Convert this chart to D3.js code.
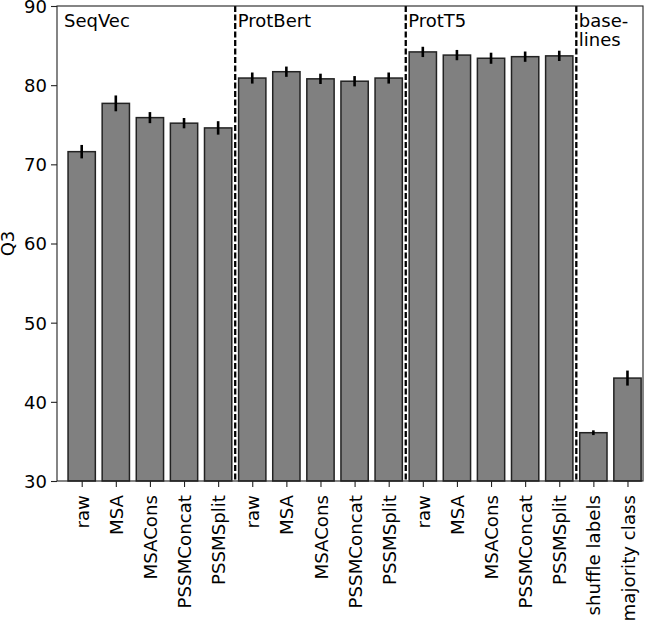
<!DOCTYPE html>
<html>
<head>
<meta charset="utf-8">
<title>Q3 per embedding</title>
<style>
	body { margin: 0; padding: 0; background: #fff; }
	svg { display: block; font-family: "DejaVu Sans", sans-serif; }
	.tick text { font-family: "DejaVu Sans", sans-serif; font-size: 18px; fill: #000; }
	.xlab .tick text { font-size: 18.2px; }
</style>
</head>
<body>
<svg width="645" height="621"></svg>
<script src="https://cdn.jsdelivr.net/npm/d3@7"></script>
<script>

	// categorie per ogni gruppo
	var groups = ["SeqVec", "ProtBert", "ProtT5", "base-\nlines"];
	var methods = ["raw", "MSA", "MSACons", "PSSMConcat", "PSSMSplit"];
	var baselineNames = ["shuffle labels", "majority class"];

	// valori Q3
	var seqvecQ3   = [71.6, 77.7, 75.9, 75.2, 74.6];
	var protbertQ3 = [80.9, 81.7, 80.8, 80.5, 80.9];
	var prott5Q3   = [84.2, 83.8, 83.4, 83.6, 83.7];
	var baselineQ3 = [36.1, 43.0];

	// errori (semi ampiezza)
	var seqvecErr   = [0.85, 1.0, 0.7, 0.65, 0.85];
	var protbertErr = [0.7, 0.65, 0.65, 0.65, 0.7];
	var prott5Err   = [0.65, 0.65, 0.7, 0.65, 0.65];
	var baselineErr = [0.3, 0.95];

	var yTicks = [30, 40, 50, 60, 70, 80, 90];

	var labels = methods.concat(methods, methods, baselineNames);
	var values = seqvecQ3.concat(protbertQ3, prott5Q3, baselineQ3);
	var errors = seqvecErr.concat(protbertErr, prott5Err, baselineErr);
	var groupSizes = [5, 5, 5, 2];

	var data = labels.map(function(d, i) {
		return { label: d, value: values[i], err: errors[i], i: i };
	});

	// margini del riquadro (window.top e' riservato, quindi nomi diversi)
	var boxL = 57, boxR = 643, boxT = 6, boxB = 481;

	var svg = d3.select("svg");

	var x = d3.scaleLinear().domain([-0.724, 16.455]).range([boxL, boxR]);
	var y = d3.scaleLinear().domain([30, 90]).range([boxB, boxT]);
	var barW = x(0.8) - x(0);

	// barre
	svg.append("g")
		.selectAll("rect")
		.data(data)
		.enter()
		.append("rect")
		.attr("x", function(d) { return x(d.i) - barW / 2; })
		.attr("y", function(d) { return y(d.value); })
		.attr("width", barW)
		.attr("height", function(d) { return y(30) - y(d.value); })
		.style("fill", "#808080")
		.style("stroke", "#222")
		.style("stroke-width", 1.5);

	// barre di errore
	svg.append("g")
		.selectAll("line")
		.data(data)
		.enter()
		.append("line")
		.attr("x1", function(d) { return x(d.i); })
		.attr("x2", function(d) { return x(d.i); })
		.attr("y1", function(d) { return y(d.value - d.err); })
		.attr("y2", function(d) { return y(d.value + d.err); })
		.style("stroke", "#000")
		.style("stroke-width", 2.6);

	// linee tratteggiate tra i gruppi
	var boundaries = [];
	var acc = 0;
	groupSizes.slice(0, -1).forEach(function(n) {
		acc += n;
		boundaries.push(acc - 0.5);
	});

	svg.append("g")
		.selectAll("line")
		.data(boundaries)
		.enter()
		.append("line")
		.attr("x1", function(d) { return x(d); })
		.attr("x2", function(d) { return x(d); })
		.attr("y1", boxT)
		.attr("y2", boxB)
		.style("stroke", "#000")
		.style("stroke-width", 2.3)
		.style("stroke-dasharray", "6,2.5");

	// etichette dei gruppi
	var groupStarts = [x.domain()[0]].concat(boundaries);
	var gl = svg.append("g")
		.selectAll("text")
		.data(groups)
		.enter()
		.append("text")
		.attr("x", function(d, i) {
			return i == 0 ? x(groupStarts[i]) + 7 : x(groupStarts[i]) + 2.5;
		})
		.attr("y", 26.5)
		.style("font-size", "18px")
		.style("fill", "#000");

	gl.each(function(d) {
		var t = d3.select(this);
		d.split("\n").forEach(function(line, k) {
			t.append("tspan")
				.attr("x", t.attr("x"))
				.attr("dy", k == 0 ? 0 : 19)
				.text(line);
		});
	});

	// asse y
	var yAxis = svg.append("g")
		.attr("transform", "translate(" + boxL + ",0)")
		.call(d3.axisLeft(y).tickValues(yTicks).tickSize(6).tickPadding(4));
	yAxis.select(".domain").remove();
	yAxis.selectAll(".tick line").style("stroke", "#222").style("stroke-width", 1.1);
	yAxis.selectAll(".tick text").attr("dy", "0.36em");

	// asse x
	var xAxis = svg.append("g")
		.attr("class", "xlab")
		.attr("transform", "translate(0," + boxB + ")")
		.call(d3.axisBottom(x).tickValues(d3.range(labels.length)).tickSize(6)
			.tickFormat(function(d) { return labels[d]; }));
	xAxis.select(".domain").remove();
	xAxis.selectAll(".tick line").style("stroke", "#222").style("stroke-width", 1.1);
	xAxis.selectAll(".tick text")
		.attr("transform", "rotate(-90)")
		.attr("x", -14)
		.attr("y", 0)
		.attr("dy", "0.36em")
		.style("text-anchor", "end");

	// cornice
	svg.append("rect")
		.attr("x", boxL)
		.attr("y", boxT)
		.attr("width", boxR - boxL)
		.attr("height", boxB - boxT)
		.style("fill", "none")
		.style("stroke", "#222")
		.style("stroke-width", 1.1);

	// etichetta asse y
	svg.append("text")
		.attr("transform", "translate(14," + ((boxT + boxB) / 2) + ") rotate(-90)")
		.style("text-anchor", "middle")
		.style("font-size", "18px")
		.text("Q3");

</script>
</body>
</html>
